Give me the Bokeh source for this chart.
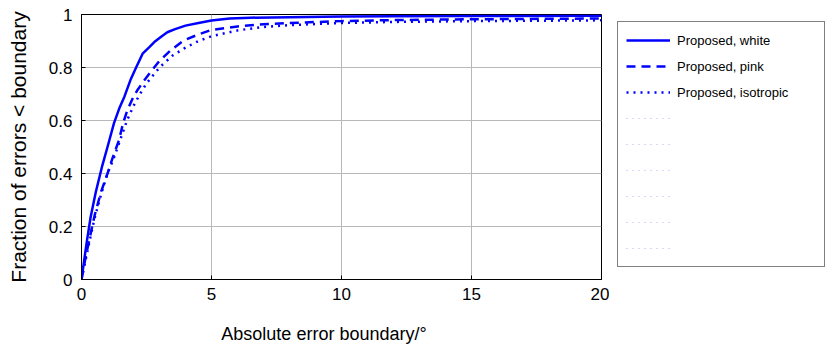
from bokeh.plotting import figure
from bokeh.models import Range1d, FixedTicker, Legend, LegendItem
from bokeh.layouts import row
from bokeh.embed import file_html
from bokeh.resources import INLINE

white_x = [0, 0.2, 0.35, 0.55, 0.8, 1.0, 1.25, 1.45, 1.65, 1.9, 2.1, 2.35, 2.6, 2.8, 3.05, 3.3, 3.6, 4.0, 4.5, 5.0, 5.7, 6.5, 8, 10, 12, 15, 20]
white_y = [0, 0.14, 0.235, 0.33, 0.43, 0.50, 0.59, 0.645, 0.69, 0.757, 0.80, 0.852, 0.876, 0.896, 0.915, 0.933, 0.945, 0.958, 0.968, 0.977, 0.985, 0.988, 0.990, 0.992, 0.993, 0.994, 0.995]

pink_x = [0, 0.15, 0.3, 0.5, 0.75, 1.0, 1.2, 1.44, 1.6, 1.76, 2.0, 2.14, 2.4, 2.65, 3.0, 3.42, 3.93, 4.5, 5.0, 6, 7, 8, 10, 12, 15, 20]
pink_y = [0, 0.08, 0.15, 0.24, 0.33, 0.40, 0.46, 0.525, 0.59, 0.638, 0.69, 0.713, 0.75, 0.782, 0.825, 0.864, 0.902, 0.925, 0.942, 0.955, 0.963, 0.968, 0.975, 0.979, 0.982, 0.985]

iso_x = [0, 0.15, 0.3, 0.5, 0.75, 1.0, 1.25, 1.5, 1.75, 2.0, 2.25, 2.5, 2.75, 3.0, 3.5, 4.0, 4.5, 5.0, 6, 7, 8, 10, 12, 15, 20]
iso_y = [0, 0.07, 0.14, 0.23, 0.32, 0.40, 0.46, 0.53, 0.60, 0.655, 0.70, 0.74, 0.77, 0.80, 0.845, 0.875, 0.90, 0.918, 0.94, 0.953, 0.96, 0.968, 0.972, 0.975, 0.978]

series_labels = ["Proposed, white", "Proposed, pink", "Proposed, isotropic"]
x_ticks = [0, 5, 10, 15, 20]
y_ticks = [0, 0.2, 0.4, 0.6, 0.8, 1]
y_tick_labels = ["0", "0.2", "0.4", "0.6", "0.8", "1"]
n_empty_entries = 6

FONT = "Liberation Sans"
BLUE = "#0000ff"

p = figure(width=609, height=346, output_backend="svg", toolbar_location=None,
           x_range=Range1d(0, 20), y_range=Range1d(0, 1),
           min_border_left=81, min_border_right=8, min_border_top=14, min_border_bottom=67)

p.outline_line_color = "black"
p.outline_line_width = 1
p.background_fill_color = "white"
p.border_fill_color = "white"

for ax in (p.xaxis[0], p.yaxis[0]):
    ax.axis_line_color = "black"
    ax.major_tick_in = 4
    ax.major_tick_out = 0
    ax.minor_tick_in = 0
    ax.minor_tick_out = 0
    ax.major_tick_line_color = "black"
    ax.major_label_text_font = FONT
    ax.major_label_text_font_size = "17px"
    ax.major_label_text_color = "black"
    ax.axis_label_text_font = FONT
    ax.axis_label_text_font_style = "normal"
    ax.axis_label_text_color = "black"

p.xaxis.axis_label_text_font_size = "18px"
p.yaxis.axis_label_text_font_size = "21px"
p.xaxis.ticker = FixedTicker(ticks=x_ticks)
p.yaxis.ticker = FixedTicker(ticks=y_ticks)
p.yaxis.major_label_overrides = {t: s for t, s in zip(y_ticks, y_tick_labels)}
p.xaxis.major_label_standoff = 8
p.yaxis.major_label_standoff = 9
p.xaxis.axis_label = "Absolute error boundary/°" + "\u00a0" * 7
p.yaxis.axis_label = "Fraction of errors < boundary"
p.xaxis.axis_label_standoff = 21
p.yaxis.axis_label_standoff = 16

p.xgrid.grid_line_color = "#b8b8b8"
p.ygrid.grid_line_color = "#b8b8b8"
p.xgrid.grid_line_width = 1
p.ygrid.grid_line_width = 1

p.line(white_x, white_y, line_color=BLUE, line_width=2.5)
p.line(pink_x, pink_y, line_color=BLUE, line_width=2.5, line_dash="9 6")
p.line(iso_x, iso_y, line_color=BLUE, line_width=2.5, line_dash="2 5")

# legend panel (its proxy lines lie outside the panel's visible ranges)
q = figure(width=216, height=346, output_backend="svg", toolbar_location=None,
           x_range=Range1d(0, 1), y_range=Range1d(0, 1),
           min_border_left=0, min_border_right=0, min_border_top=0, min_border_bottom=0)
q.axis.visible = False
q.grid.visible = False
q.outline_line_color = None
q.background_fill_color = "white"
q.border_fill_color = "white"

proxy_x = [5, 6]
proxy_y = [5, 5]
l1 = q.line(proxy_x, proxy_y, line_color=BLUE, line_width=2.5)
l2 = q.line(proxy_x, proxy_y, line_color=BLUE, line_width=2.5, line_dash="9 6")
l3 = q.line(proxy_x, proxy_y, line_color=BLUE, line_width=2.5, line_dash="2 5")
items = [LegendItem(label=series_labels[0], renderers=[l1]),
         LegendItem(label=series_labels[1], renderers=[l2]),
         LegendItem(label=series_labels[2], renderers=[l3])]
for i in range(n_empty_entries):
    re = q.line(proxy_x, proxy_y, line_color="#b8b0ee", line_width=1.2, line_dash="1 5")
    items.append(LegendItem(label=" ", renderers=[re]))

legend = Legend(items=items, location=(8, 12))
legend.label_text_font = FONT
legend.label_text_font_size = "13px"
legend.label_text_color = "black"
legend.label_height = 20
legend.glyph_height = 20
legend.glyph_width = 44
legend.label_standoff = 7
legend.label_width = 139
legend.spacing = 6
legend.padding = 8
legend.margin = 0
legend.border_line_color = "black"
legend.border_line_width = 1
legend.background_fill_alpha = 1
q.add_layout(legend, "center")

layout = row(p, q, spacing=0)
open("out.html", "w").write(file_html(layout, INLINE))
